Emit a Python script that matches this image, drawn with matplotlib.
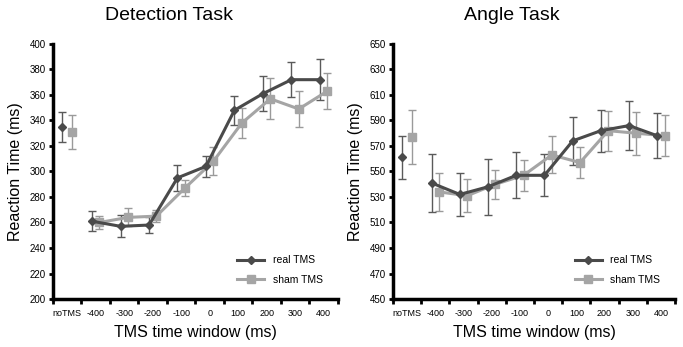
import numpy as np
import matplotlib
matplotlib.use('Agg')
from matplotlib import pyplot as plt

plt.rcParams['font.family'] = ['Liberation Sans', 'DejaVu Sans']

# categories on the x axis
windows = ['noTMS', '-400', '-300', '-200', '-100', '0', '100', '200', '300', '400']

# Detection task (ms)
det_real = [335, 261, 257, 258, 295, 304, 348, 361, 372, 372]
det_real_err = [12, 8, 8.5, 6.5, 10, 8, 11.5, 13.5, 13.7, 16]
det_sham = [331, 260, 264, 265, 287, 308, 338, 357, 349, 363]
det_sham_err = [13, 5, 7, 5, 6, 11, 11.4, 16, 14, 14]

# Angle task (ms)
ang_real = [561, 541, 532, 538, 547, 547, 574, 582, 586, 578]
ang_real_err = [16.5, 23, 17, 22, 18, 16.5, 19, 16.5, 19, 17.5]
ang_sham = [577, 534, 531, 540, 547, 563, 557, 582, 580, 578]
ang_sham_err = [21.5, 15, 13, 11.5, 12, 14.5, 12, 15.7, 17, 16]

real_col = '#4a4a4a'
real_err_col = '#5a5a5a'
sham_col = '#a5a5a5'
sham_err_col = '#9a9a9a'

fig = plt.figure(figsize=(6.83, 3.47), dpi=100)
ax1 = fig.add_axes([0.0776, 0.1383, 0.417, 0.735])
ax2 = fig.add_axes([0.5754, 0.1383, 0.413, 0.735])


def draw(ax, real, real_err, sham, sham_err, ylo, yhi):
    x = np.arange(len(windows)) + 0.5
    off = np.full(len(windows), 0.13)
    off[0] = 0.17
    xr = x - off
    xs = x + off
    ekw = dict(capsize=3, elinewidth=1.0, capthick=1.0)
    # sham first (behind)
    ax.errorbar(xs[0], sham[0], yerr=sham_err[0], fmt='s', color=sham_col,
                ecolor=sham_err_col, ms=6, **ekw)
    ax.errorbar(xs[1:], sham[1:], yerr=sham_err[1:], fmt='-s', color=sham_col,
                ecolor=sham_err_col, lw=2.2, ms=6, **ekw)
    ax.errorbar(xr[0], real[0], yerr=real_err[0], fmt='D', color=real_col,
                ecolor=real_err_col, ms=4.5, **ekw)
    ax.errorbar(xr[1:], real[1:], yerr=real_err[1:], fmt='-D', color=real_col,
                ecolor=real_err_col, lw=2.2, ms=4.5, **ekw)

    ax.plot([], [], '-D', color=real_col, lw=2.2, ms=4, label='real TMS')
    ax.plot([], [], '-s', color=sham_col, lw=2.2, ms=5.5, label='sham TMS')
    ax.legend(loc='lower right', frameon=False, fontsize=7.5, handlelength=2.6,
              labelspacing=0.9, bbox_to_anchor=(0.98, 0.02))

    ax.set_xlim(0, len(windows))
    ax.set_ylim(ylo, yhi)
    ax.set_yticks(np.arange(ylo, yhi + 1, 20))
    ax.set_xticks(np.arange(len(windows) + 1))
    ax.set_xticklabels([])
    ax.set_xticks(x, minor=True)
    ax.set_xticklabels(windows, minor=True, fontsize=6.5)
    ax.tick_params(axis='x', which='major', direction='out', length=3.5, width=2)
    ax.tick_params(axis='x', which='minor', length=0, pad=7)
    ax.tick_params(axis='y', direction='out', length=3, width=2, labelsize=7, pad=2)
    for s in ['top', 'right']:
        ax.spines[s].set_visible(False)
    for s in ['left', 'bottom']:
        ax.spines[s].set_linewidth(2.5)
    ax.set_xlabel('TMS time window (ms)', fontsize=11.5, labelpad=5)
    ax.set_ylabel('Reaction Time (ms)', fontsize=11.5, labelpad=5)


draw(ax1, det_real, det_real_err, det_sham, det_sham_err, 200, 400)
draw(ax2, ang_real, ang_real_err, ang_sham, ang_sham_err, 450, 650)

fig.text(169 / 683, 0.955, 'Detection Task', ha='center', va='center', fontsize=14)
fig.text(512 / 683, 0.955, 'Angle Task', ha='center', va='center', fontsize=14)

plt.savefig('out.png', dpi=100)
